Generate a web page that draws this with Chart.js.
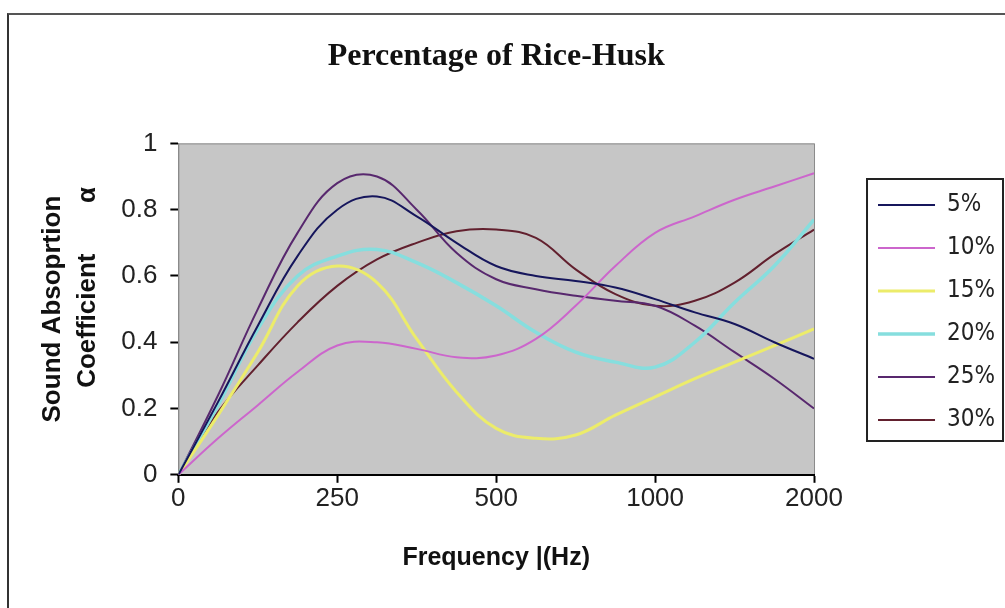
<!DOCTYPE html>
<html>
<head>
<meta charset="utf-8">
<script src="https://cdn.jsdelivr.net/npm/chart.js@4.4.1/dist/chart.umd.min.js"></script>
<style>
  html, body { margin: 0; padding: 0; background: #fff; }
  #wrap { position: relative; width: 1005px; height: 608px; overflow: hidden; }
  #frame { position: absolute; left: 7px; top: 13px; width: 1010px; height: 610px;
           border-left: 2px solid #333; border-top: 2px solid #555; pointer-events: none; }
  canvas { position: absolute; left: 0; top: 0; }
</style>
</head>
<body>
<div id="wrap">
  <canvas id="myChart" width="1005" height="608"></canvas>
  <div id="frame"></div>
</div>
<script>
// x positions on the category axis (0 = "0", 1 = "250", 2 = "500", 3 = "1000", 4 = "2000")
const posicoes = [0, 0.25, 0.5, 0.75, 1, 1.25, 1.5, 1.75, 2, 2.25, 2.5, 2.75, 3, 3.25, 3.5, 3.75, 4];
const rotulosX = ['0', '250', '500', '1000', '2000'];
const rotulosY = ['0', '0.2', '0.4', '0.6', '0.8', '1'];

const series = ['5%', '10%', '15%', '20%', '25%', '30%'];

const v5  = [0, 0.22, 0.45, 0.66, 0.80, 0.84, 0.78, 0.70, 0.63, 0.60, 0.585, 0.565, 0.53, 0.49, 0.455, 0.40, 0.35];
const v10 = [0, 0.11, 0.21, 0.31, 0.39, 0.40, 0.38, 0.355, 0.36, 0.41, 0.51, 0.63, 0.73, 0.78, 0.83, 0.87, 0.91];
const v15 = [0, 0.18, 0.37, 0.57, 0.63, 0.58, 0.41, 0.25, 0.14, 0.11, 0.12, 0.18, 0.235, 0.29, 0.34, 0.39, 0.44];
const v20 = [0, 0.21, 0.44, 0.60, 0.66, 0.68, 0.64, 0.58, 0.51, 0.43, 0.37, 0.34, 0.325, 0.40, 0.52, 0.63, 0.77];
const v25 = [0, 0.24, 0.50, 0.73, 0.88, 0.90, 0.80, 0.67, 0.59, 0.56, 0.54, 0.525, 0.51, 0.45, 0.37, 0.29, 0.20];
const v30 = [0, 0.19, 0.33, 0.46, 0.57, 0.65, 0.70, 0.735, 0.74, 0.715, 0.62, 0.545, 0.51, 0.525, 0.58, 0.665, 0.74];

const valores = [v5, v10, v15, v20, v25, v30];
const cores = ['#16165c', '#cc66cc', '#ecec6a', '#86dede', '#58286e', '#62202e'];
const espessuras = [2, 2, 3, 3.5, 2, 2];

const ctx = document.getElementById('myChart');

// gray plot area
const fundoPlot = {
  id: 'fundoPlot',
  beforeDraw(chart) {
    const { ctx, chartArea: a } = chart;
    ctx.save();
    ctx.fillStyle = '#fff';
    ctx.fillRect(0, 0, chart.width, chart.height);
    ctx.fillStyle = '#c6c6c6';
    ctx.fillRect(a.left, a.top, a.right - a.left, a.bottom - a.top);
    ctx.strokeStyle = '#8a8a8a';
    ctx.lineWidth = 1;
    ctx.strokeRect(a.left + 0.5, a.top + 0.5, a.right - a.left, a.bottom - a.top);
    ctx.restore();
  }
};

// box round the legend
const caixaLegenda = {
  id: 'caixaLegenda',
  afterDraw(chart) {
    const hb = chart.legend.legendHitBoxes;
    if (!hb || !hb.length) return;
    const c = chart.ctx;
    const esq = hb[0].left - 11;
    const topo = hb[0].top - 14;
    const baixo = hb[hb.length - 1].top + hb[hb.length - 1].height + 9;
    c.save();
    c.strokeStyle = '#222';
    c.lineWidth = 2;
    c.strokeRect(esq, topo, chart.width - 2 - esq, baixo - topo);
    c.restore();
  }
};

new Chart(ctx, {
  type: 'line',
  data: {
    datasets: series.map((nome, i) => ({
      label: nome,
      data: posicoes.map((p, j) => ({ x: p, y: valores[i][j] })),
      borderColor: cores[i],
      backgroundColor: cores[i],
      borderWidth: espessuras[i],
      pointRadius: 0,
      tension: 0.4,
      fill: false
    }))
  },
  options: {
    responsive: false,
    animation: false,
    layout: { padding: { left: 35, right: 0, top: 0, bottom: 35 } },
    plugins: {
      title: {
        display: true,
        fullSize: false,
        text: 'Percentage of Rice-Husk',
        color: '#111',
        font: { family: '"Liberation Serif", serif', size: 32, weight: 'bold', lineHeight: 1.2 },
        padding: { top: 38, bottom: 67 }
      },
      legend: {
        position: 'right',
        title: { display: true, text: ' ', font: { size: 10, lineHeight: 1.2 }, padding: 20 },
        labels: {
          usePointStyle: true,
          pointStyle: 'line',
          pointStyleWidth: 57,
          padding: 19,
          color: '#222',
          font: { family: '"Liberation Sans Narrow", "DejaVu Sans Condensed", sans-serif', size: 24 }
        }
      },
      tooltip: { enabled: false }
    },
    scales: {
      x: {
        type: 'linear',
        min: 0,
        max: 4,
        border: { color: '#000', width: 2 },
        grid: { drawOnChartArea: false, tickColor: '#000', tickLength: 8, tickWidth: 2 },
        ticks: {
          stepSize: 1,
          padding: 0,
          color: '#222',
          font: { family: '"Liberation Sans Narrow", sans-serif', size: 26 },
          callback: (v) => rotulosX[v]
        },
        title: {
          display: true,
          text: 'Frequency |(Hz)',
          color: '#111',
          font: { family: '"Liberation Sans Narrow", sans-serif', size: 25, weight: 'bold', lineHeight: 1.2 },
          padding: { top: 29, bottom: 0 }
        }
      },
      y: {
        min: 0,
        max: 1,
        border: { color: '#8a8a8a', width: 1 },
        grid: { drawOnChartArea: false, tickColor: '#000', tickLength: 8, tickWidth: 2 },
        ticks: {
          stepSize: 0.2,
          padding: 13,
          color: '#222',
          font: { family: '"Liberation Sans Narrow", sans-serif', size: 26 },
          callback: (v, i) => rotulosY[i]
        },
        title: {
          display: true,
          text: ['Sound Absoprtion', '      Coefficient       \u03b1'],
          color: '#111',
          font: { family: '"Liberation Sans Narrow", sans-serif', size: 26, weight: 'bold', lineHeight: 1.35 },
          padding: { top: 0, bottom: 3 }
        }
      },
      y2: {
        position: 'right',
        display: true,
        grid: { display: false },
        border: { display: false },
        ticks: { display: false },
        afterFit: (s) => { s.width = 45; }
      }
    }
  },
  plugins: [fundoPlot, caixaLegenda]
});
</script>
</body>
</html>
